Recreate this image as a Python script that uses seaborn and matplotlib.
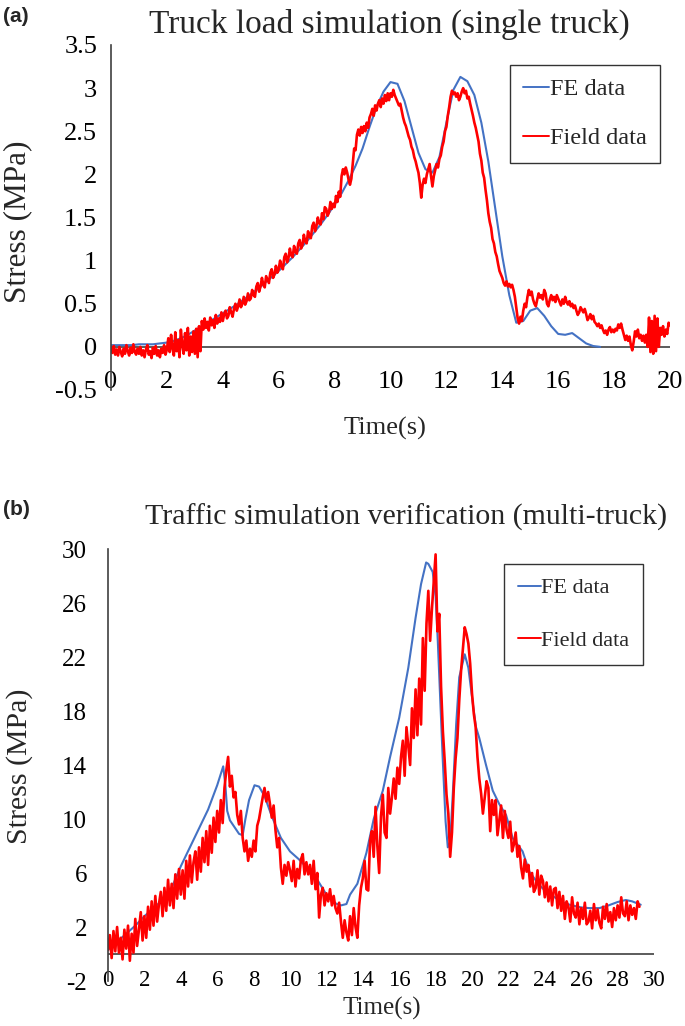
"""Stress comparison: FE model vs field measurements (two panels)."""
import matplotlib
matplotlib.use("Agg")
import matplotlib.pyplot as plt
import numpy as np
import seaborn as sns

# ---- panel (a): single truck --------------------------------------------
fe_a_t = [0, 0.25, 0.5, 0.75, 1.0, 1.25, 1.5, 1.75, 2.0, 2.25, 2.5, 2.75, 3.0,
          3.25, 3.5, 3.75, 4.0, 4.25, 4.5, 4.75, 5.0, 5.25, 5.5, 5.75, 6.0,
          6.25, 6.5, 6.75, 7.0, 7.25, 7.5, 7.75, 8.0, 8.25, 8.5, 8.75, 9.0,
          9.25, 9.5, 9.75, 10.0, 10.25, 10.5, 10.75, 11.0, 11.25, 11.5, 11.75,
          12.0, 12.25, 12.5, 12.75, 13.0, 13.25, 13.5, 13.75, 14.0, 14.25,
          14.5, 14.75, 15.0, 15.25, 15.5, 15.75, 16.0, 16.25, 16.5, 16.75,
          17.0, 17.25, 17.5]
fe_a = [0.02, 0.02, 0.02, 0.02, 0.03, 0.03, 0.03, 0.04, 0.05, 0.07, 0.1, 0.14,
        0.19, 0.24, 0.29, 0.34, 0.39, 0.44, 0.49, 0.55, 0.61, 0.67, 0.74, 0.81,
        0.88, 0.96, 1.04, 1.13, 1.22, 1.32, 1.42, 1.53, 1.65, 1.78, 1.93, 2.1,
        2.3, 2.55, 2.78, 2.96, 3.07, 3.05, 2.85, 2.55, 2.25, 2.06, 2.02, 2.2,
        2.6, 2.98, 3.13, 3.08, 2.92, 2.6, 2.15, 1.6, 1.05, 0.6, 0.28, 0.3,
        0.42, 0.45, 0.36, 0.24, 0.15, 0.14, 0.16, 0.1, 0.04, 0.01, 0.0]

# field record sampled every 0.05 s from 0 to 20 s (two rows per second)
field_a = [
    -0.02, -0.07, 0.01, -0.09, -0.03, -0.1, 0.0, -0.06, -0.11, -0.02,
    -0.08, 0.02, -0.05, -0.1, -0.01, -0.07, 0.03, -0.06, -0.09, -0.02,
    -0.08, 0.0, -0.1, -0.04, -0.12, -0.03, 0.02, -0.09, -0.05, -0.13,
    -0.01, -0.08, 0.01, -0.1, -0.04, -0.12, -0.02, -0.07, 0.02, -0.09,
    -0.03, 0.1, -0.06, 0.14, -0.02, -0.1, 0.17, -0.05, 0.08, -0.12,
    0.2, 0.02, -0.08, 0.16, -0.04, 0.22, -0.1, 0.12, -0.06, 0.18,
    -0.08, 0.21, -0.12, 0.24, -0.05, 0.3, 0.2, 0.33, 0.22, 0.29,
    0.19, 0.34, 0.25, 0.31, 0.22, 0.37, 0.27, 0.33, 0.29, 0.4,
    0.3, 0.38, 0.42, 0.33, 0.36, 0.46, 0.4, 0.35, 0.44, 0.5,
    0.42, 0.47, 0.55, 0.46, 0.5, 0.58, 0.49, 0.53, 0.62, 0.54,
    0.56, 0.66, 0.6, 0.58, 0.7, 0.74, 0.64, 0.7, 0.8, 0.72,
    0.69, 0.82, 0.78, 0.74, 0.86, 0.9, 0.8, 0.84, 0.94, 0.86,
    0.9, 1.0, 0.93, 0.9, 1.04, 1.08, 0.98, 1.03, 1.14, 1.06,
    1.04, 1.17, 1.1, 1.08, 1.2, 1.24, 1.14, 1.18, 1.3, 1.22,
    1.2, 1.34, 1.28, 1.26, 1.4, 1.44, 1.34, 1.4, 1.5, 1.43,
    1.42, 1.55, 1.48, 1.62, 1.6, 1.52, 1.56, 1.68, 1.6, 1.66,
    1.62, 1.75, 1.68, 1.8, 1.74, 1.98, 2.06, 2.0, 2.08, 2.02,
    1.94, 1.88, 1.95, 2.12, 2.3, 2.28, 2.46, 2.52, 2.45, 2.55,
    2.48, 2.56, 2.5, 2.6, 2.54, 2.66, 2.7, 2.76, 2.68, 2.8,
    2.74, 2.82, 2.86, 2.78, 2.88, 2.82, 2.92, 2.85, 2.94, 2.86,
    2.94, 2.9, 2.98, 2.92, 2.88, 2.84, 2.8, 2.82, 2.74, 2.66,
    2.6, 2.56, 2.5, 2.44, 2.4, 2.32, 2.28, 2.2, 2.15, 2.08,
    2.02, 1.9, 1.73, 1.88, 1.95, 1.9, 2.0, 2.06, 2.12, 1.98,
    1.86, 1.98, 2.05, 2.12, 2.08, 2.18, 2.22, 2.32, 2.38, 2.5,
    2.55, 2.68, 2.78, 2.9, 2.97, 2.93, 2.95, 2.9, 2.94, 2.86,
    2.9, 2.96, 3.0, 2.94, 2.97, 2.88, 2.9, 2.82, 2.75, 2.68,
    2.6, 2.54, 2.46, 2.38, 2.24, 2.16, 2.02, 1.96, 1.82, 1.7,
    1.55, 1.45, 1.38, 1.25, 1.2, 1.1, 1.05, 0.96, 0.88, 0.84,
    0.8, 0.74, 0.71, 0.76, 0.7, 0.73, 0.69, 0.72, 0.66, 0.58,
    0.45, 0.33, 0.27, 0.35, 0.3, 0.42, 0.5, 0.46, 0.58, 0.66,
    0.6, 0.64, 0.55, 0.5, 0.47, 0.55, 0.62, 0.57, 0.6, 0.55,
    0.66, 0.62, 0.5, 0.47, 0.55, 0.6, 0.54, 0.58, 0.52, 0.6,
    0.56, 0.52, 0.48, 0.55, 0.5, 0.58, 0.52, 0.49, 0.53, 0.47,
    0.5, 0.45, 0.48, 0.42, 0.37, 0.4, 0.46, 0.43, 0.4, 0.44,
    0.38, 0.31, 0.34, 0.38, 0.32, 0.36, 0.29, 0.27, 0.24, 0.27,
    0.22, 0.25, 0.2, 0.16, 0.19, 0.14, 0.2, 0.23, 0.17, 0.2,
    0.17, 0.21, 0.19, 0.26, 0.22, 0.27, 0.2, 0.14, 0.08, 0.13,
    0.07, 0.12, 0.02, -0.04, 0.06, 0.18, 0.12, 0.2, 0.1, 0.14,
    0.07, 0.13, 0.05, 0.14, 0.0, 0.34, -0.06, 0.3, -0.08, 0.36,
    -0.05, 0.33, 0.0, 0.22, 0.14, 0.24, 0.12, 0.2, 0.15, 0.28,
    0.25,
]

yticks_a = [-0.5, 0, 0.5, 1, 1.5, 2, 2.5, 3, 3.5]
ylabels_a = ["-0.5", "0", "0.5", "1", "1.5", "2", "2.5", "3", "3.5"]
xticks_a = list(range(0, 21, 2))

# ---- panel (b): multi-truck traffic ---------------------------------------
fe_b_t = [0, 0.5, 1.0, 1.5, 2.0, 2.5, 3.0, 3.5, 4.0, 4.5, 5.0, 5.5, 6.0, 6.33,
          6.45, 6.55, 6.7, 6.9, 7.2, 7.4, 7.55, 7.75, 8.05, 8.3, 8.6, 9.0, 9.5,
          10.0, 10.5, 11.0, 11.5, 12.0, 12.4, 12.8, 13.1, 13.3, 13.7, 14.2,
          14.6, 15.1, 15.5, 16.0, 16.5, 16.9, 17.2, 17.48, 17.6, 17.84, 18.0,
          18.12, 18.25, 18.39, 18.55, 18.67, 18.8, 18.95, 19.13, 19.3, 19.6,
          19.8, 20.05, 20.22, 20.4, 20.77, 21.14, 21.5, 21.87, 22.23, 22.78,
          23.15, 23.7, 24.06, 24.6, 25.0, 25.5, 26.0, 26.44, 27.0, 27.5, 28.0,
          28.45, 28.8, 29.27]
fe_b = [0.3, 0.9, 1.5, 2.1, 2.8, 3.4, 4.0, 4.9, 6.5, 7.9, 9.3, 10.7, 12.5,
        13.9, 12.5, 10.6, 9.9, 9.5, 8.9, 8.8, 10.0, 11.4, 12.5, 12.4, 11.7,
        10.2, 8.6, 7.6, 7.0, 6.3, 5.5, 4.4, 3.8, 3.6, 3.7, 4.4, 5.2, 7.5,
        10.0, 12.1, 14.6, 17.5, 21.2, 24.9, 27.4, 29.0, 28.9, 28.3, 26.5,
        23.2, 19.0, 14.5, 9.8, 7.9, 8.3, 12.0, 17.0, 20.5, 22.2, 21.2, 18.5,
        16.8, 16.0, 14.0, 12.1, 11.1, 10.3, 8.6, 7.6, 6.1, 5.1, 4.64, 4.15,
        3.8, 3.6, 3.45, 3.4, 3.4, 3.6, 3.85, 4.0, 3.9, 3.65]

# field record sampled every 0.1 s from 0 to 29.2 s
field_b = [
    0.3, 1.4, -0.3, 1.7, 0.2, 2.0, 0.1, 1.2, -0.4, 1.8,
    0.4, 2.1, -0.5, 1.5, 0.1, 2.6, 0.6, 1.8, 3.1, 1.0,
    2.8, 1.2, 3.5, 1.8, 3.9, 2.1, 4.3, 2.4, 3.7, 4.6,
    2.8, 4.9, 3.2, 5.5, 3.6, 5.2, 3.4, 5.9, 4.1, 6.3,
    4.4, 6.2, 4.1, 6.9, 5.0, 7.3, 5.3, 6.8, 7.6, 5.5,
    7.9, 6.1, 8.6, 6.8, 9.1, 6.6, 9.5, 7.5, 10.1, 8.3,
    10.6, 9.0, 11.4, 9.7, 12.3, 13.6, 14.6, 12.4, 13.2, 11.6,
    12.0, 10.3, 9.6, 10.6, 8.6, 7.6, 8.4, 6.9, 7.8, 7.2,
    8.4, 7.6, 9.5, 10.0, 10.8, 11.6, 12.3, 11.3, 12.0, 11.1,
    10.1, 11.0, 9.2, 7.9, 8.6, 6.4, 5.2, 6.6, 5.8, 6.8,
    6.2, 5.4, 6.9, 5.0, 6.3, 5.6, 7.0, 7.4, 5.9, 6.8,
    5.9, 6.6, 5.2, 6.9, 4.8, 6.0, 2.7, 4.4, 4.9, 3.6,
    4.5, 3.9, 4.8, 3.6, 4.3, 3.4, 3.0, 3.8, 2.4, 1.2,
    2.5, 1.6, 1.0, 2.8, 1.4, 3.4, 2.0, 1.2, 3.6, 4.9,
    5.6, 6.9, 4.8, 4.7, 8.4, 9.1, 7.2, 10.9, 8.0, 6.0,
    10.2, 11.8, 9.0, 8.6, 12.3, 10.4, 11.6, 13.0, 11.5, 13.8,
    12.6, 14.6, 15.8, 13.2, 16.8, 15.4, 14.0, 18.2, 16.0, 19.6,
    16.2, 20.4, 17.0, 23.4, 19.5, 24.5, 26.9, 23.2, 25.6, 27.6,
    29.6, 23.9, 25.2, 19.8, 16.5, 14.3, 11.8, 10.4, 7.2, 9.0,
    12.3, 14.5, 16.0, 18.8, 21.0, 22.6, 24.2, 23.7, 23.0, 21.5,
    19.3, 17.8, 16.8, 14.6, 13.0, 11.9, 10.4, 11.6, 12.8, 12.3,
    9.1, 11.4, 10.3, 11.4, 8.8, 9.9, 11.0, 8.6, 10.6, 9.2,
    8.6, 9.8, 7.6, 8.1, 9.0, 7.2, 8.0, 6.4, 5.6, 7.0,
    6.1, 6.6, 5.0, 6.0, 4.6, 4.9, 6.2, 4.4, 5.8, 5.4,
    4.2, 5.3, 3.9, 5.0, 3.6, 4.8, 4.9, 3.4, 4.6, 3.2,
    4.3, 2.6, 3.9, 3.5, 2.4, 4.2, 3.0, 2.7, 3.8, 2.2,
    3.4, 2.6, 3.8, 2.2, 2.4, 3.2, 1.9, 3.7, 2.5, 3.3,
    2.3, 1.9, 3.5, 2.6, 3.7, 2.4, 3.1, 2.0, 3.4, 2.5,
    3.6, 2.7, 4.2, 3.0, 2.8, 3.9, 2.5, 3.6, 2.9, 3.4,
    2.6, 3.9, 3.5,
]

yticks_b = list(range(-2, 31, 4))
ylabels_b = [str(v) for v in yticks_b]
xticks_b = list(range(0, 31, 2))

BLUE = "#4472C4"
RED = "#FF0000"
AXIS = "#404040"

sns.set_theme(style="white")
plt.rcParams["font.family"] = ["Liberation Serif", "DejaVu Serif"]

W, H = 685, 1026
fig = plt.figure(figsize=(W / 100, H / 100), dpi=100)


def px(x, y):
    """Pixel position (from top-left) to figure fraction."""
    return x / W, 1 - y / H


def draw_panel(rect, fe_t, fe, field, step, xmax, yticks, ylabels, xticks,
               tick_fs, xtick_fs, ypad, xpad, leg_anchor, leg_fs, leg_space,
               leg_pad):
    ax = fig.add_axes(rect)
    field_t = np.round(np.arange(len(field)) * step, 2)
    sns.lineplot(x=fe_t, y=fe, ax=ax, color=BLUE, lw=1.5, label="FE data",
                 estimator=None, sort=False)
    sns.lineplot(x=field_t, y=field, ax=ax, color=RED, lw=1.9,
                 label="Field data", estimator=None, sort=False)
    ax.set_xlim(0, xmax)
    ax.set_ylim(yticks[0], yticks[-1])
    ax.set_yticks(yticks)
    ax.set_yticklabels(ylabels)
    ax.set_xticks(xticks)
    ax.set_xticklabels([str(v) for v in xticks])
    ax.axhline(0, color=AXIS, lw=1.2, zorder=1)
    for s in ("top", "right", "bottom"):
        ax.spines[s].set_visible(False)
    ax.spines["left"].set_color(AXIS)
    ax.spines["left"].set_linewidth(1.2)
    ax.tick_params(axis="y", length=0, labelsize=tick_fs, pad=ypad,
                   colors="black")
    ax.tick_params(axis="x", length=0, labelsize=xtick_fs, pad=xpad,
                   colors="black")
    ax.set_xlabel("")
    ax.set_ylabel("")
    leg = ax.legend(loc="upper left", bbox_to_anchor=leg_anchor,
                    borderaxespad=0, frameon=True, fancybox=False,
                    edgecolor="black", fontsize=leg_fs, handlelength=1.05,
                    handletextpad=0.02, labelspacing=leg_space,
                    borderpad=leg_pad)
    leg.get_frame().set_linewidth(1.0)
    for line in leg.get_lines():
        line.set_linewidth(1.4)
    return ax


# (a) axes: x 111..670 px, y 45..390 px
draw_panel([111 / W, 1 - 390 / H, 559 / W, 345 / H],
           fe_a_t, fe_a, field_a, 0.05, 20, yticks_a, ylabels_a, xticks_a,
           19, 19, 10, -14, (0.714, 0.942), 17.5, 1.1, 0.55)
# (b) axes: x 108..654 px, y 549..981 px
draw_panel([108 / W, 1 - 981 / H, 546 / W, 432 / H],
           fe_b_t, fe_b, field_b, 0.1, 30, yticks_b, ylabels_b, xticks_b,
           18, 16.5, 15, -8, (0.725, 0.965), 16, 1.45, 0.62)

fig.text(*px(3, 17), "(a)", fontsize=15, fontweight="bold",
         family="Liberation Sans", ha="left", va="center")
fig.text(*px(389, 24), "Truck load simulation (single truck)", fontsize=24,
         ha="center", va="center")
fig.text(*px(385, 428), "Time(s)", fontsize=19, ha="center", va="center")
fig.text(*px(18, 222), "Stress (MPa)", fontsize=22.5, rotation=90,
         ha="center", va="center")

fig.text(*px(3, 510), "(b)", fontsize=15, fontweight="bold",
         family="Liberation Sans", ha="left", va="center")
fig.text(*px(406, 517), "Traffic simulation verification (multi-truck)",
         fontsize=21.5, ha="center", va="center")
fig.text(*px(382, 1008), "Time(s)", fontsize=18, ha="center", va="center")
fig.text(*px(20, 766), "Stress (MPa)", fontsize=21.5, rotation=90,
         ha="center", va="center")

fig.savefig("out.png", dpi=100, facecolor="white")
